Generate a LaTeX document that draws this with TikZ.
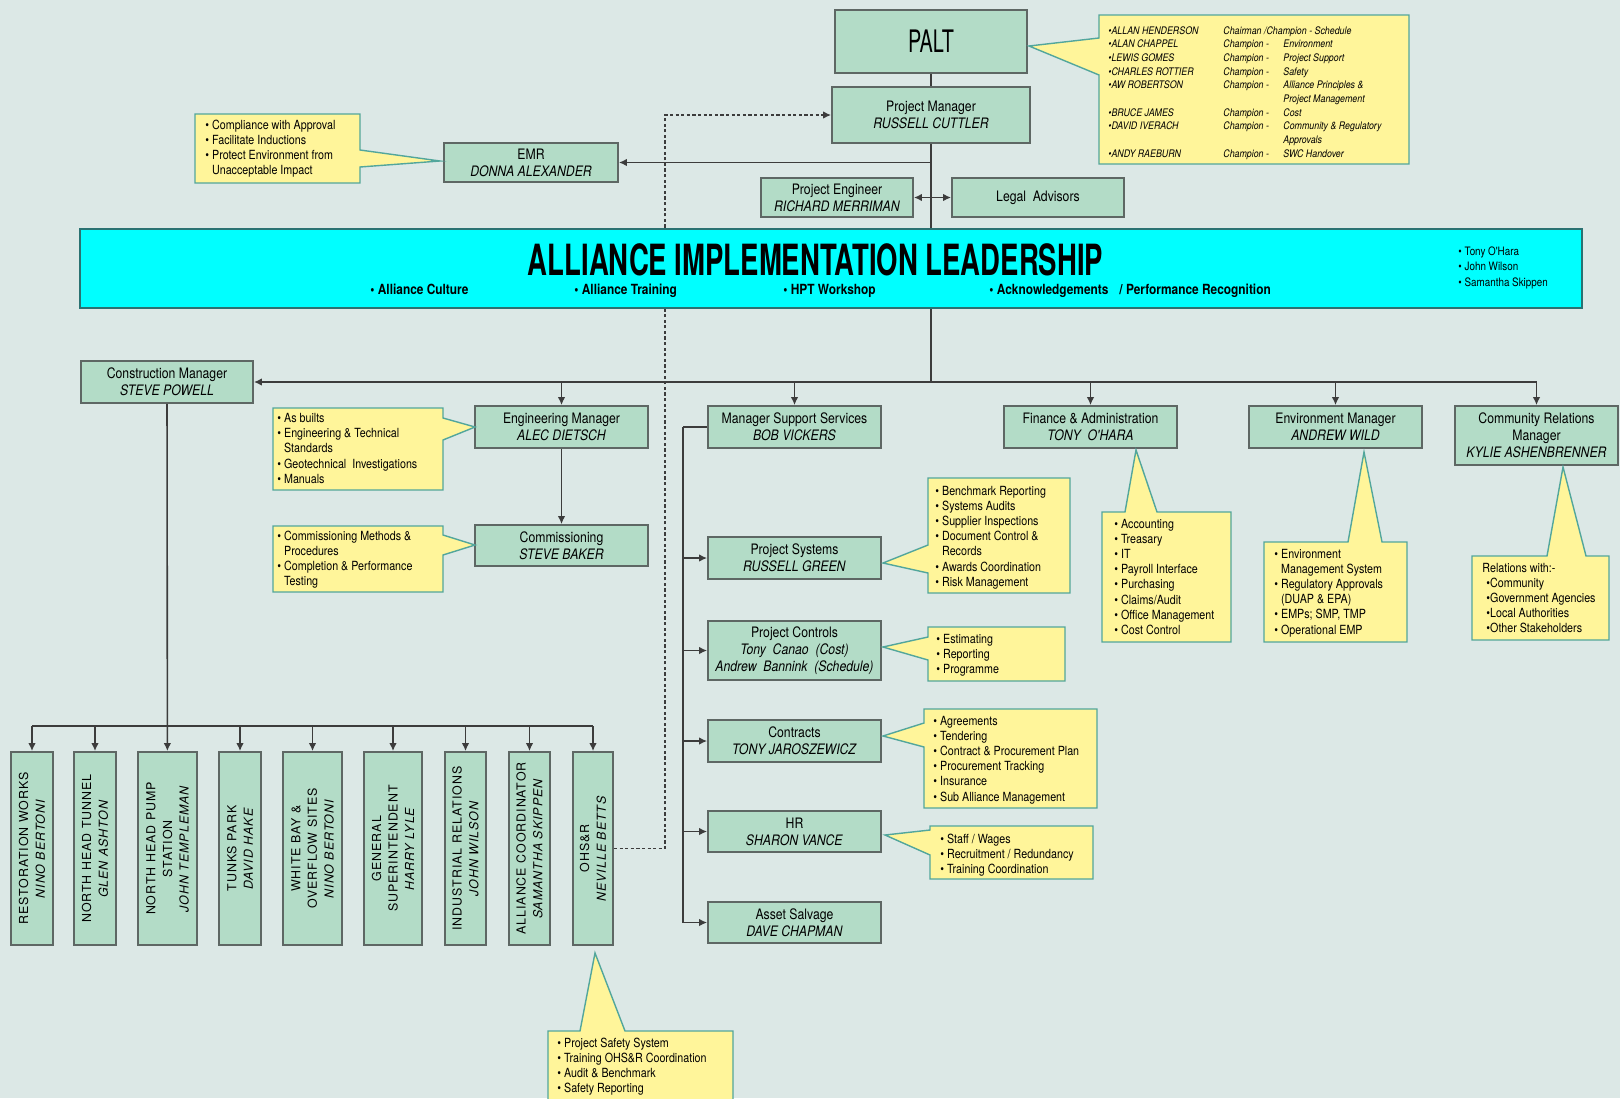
\documentclass[tikz,border=0pt]{standalone}
\usepackage{fontspec}
\setmainfont{TeX Gyre Heros}
\newfontfamily\cn{TeX Gyre Heros}[FakeStretch=0.85]
\newfontfamily\tfont{TeX Gyre Heros}[FakeStretch=0.64]
\newfontfamily\vfont{TeX Gyre Heros}[LetterSpace=8]
\usetikzlibrary{arrows.meta}

\definecolor{bg}{HTML}{DCE8E6}
\definecolor{boxfill}{HTML}{B3DCC7}
\definecolor{boxline}{HTML}{5E6764}
\definecolor{callfill}{HTML}{FFF59A}
\definecolor{callline}{HTML}{52A69C}
\definecolor{banfill}{HTML}{00FFFF}
\definecolor{banline}{HTML}{2A7272}
\definecolor{wire}{HTML}{3C3C3C}

% stacked lines whose baseline is the first line
\newcommand\rowsof[1]{\begin{tabular}[t]{@{}l@{}}#1\end{tabular}}
\newcommand\cind{\hphantom{•\ }}

\begin{document}
\begin{tikzpicture}[x=0.5pt,y=-0.5pt,
  box/.style={draw=boxline, fill=boxfill, line width=0.9pt, align=center, inner sep=0pt,
              font=\cn\fontsize{7.2}{8.5}\selectfont},
  vbox/.style={box, rotate=90, minimum width=96.5pt, font=\vfont\fontsize{6.2}{8.3}\selectfont},
  call/.style={draw=callline, fill=callfill, line width=0.7pt},
  ctext/.style={anchor=base west, inner sep=0pt, font=\cn\fontsize{6.3}{7.6}\selectfont},
  conn/.style={draw=wire, line width=0.8pt},
  arr/.style={conn, -{Latex[length=4pt,width=3.8pt]}},
  dsh/.style={arr, dash pattern=on 1.6pt off 1.2pt}]

\useasboundingbox (0,0) rectangle (1620,1098);
\clip (0,0) rectangle (1620,1098);
\fill[bg] (0,0) rectangle (1620,1098);

% ---------- management boxes ----------
\node[box, minimum width=96pt, minimum height=31.5pt, font=\tfont\fontsize{15.5}{17}\selectfont] (palt) at (931,41.5) {PALT};
\node[box, minimum width=99pt, minimum height=28pt] (pm) at (931,115) {Project Manager\\\textit{RUSSELL CUTTLER}};
\node[box, minimum width=87pt, minimum height=19.5pt] (emr) at (531,162.5) {EMR\\\textit{DONNA ALEXANDER}};
\node[box, minimum width=76pt, minimum height=19.5pt] (pe) at (837,197.5) {Project Engineer\\\textit{RICHARD MERRIMAN}};
\node[box, minimum width=86pt, minimum height=19.5pt] (legal) at (1038,197.5) {Legal\ \ Advisors};

\node[box, minimum width=86pt, minimum height=21pt] (cm) at (167,382) {Construction Manager\\\textit{STEVE POWELL}};
\node[box, minimum width=86.5pt, minimum height=21pt] (eng) at (561.5,427) {Engineering Manager\\\textit{ALEC DIETSCH}};
\node[box, minimum width=86.5pt, minimum height=21pt] (mss) at (794.5,427) {Manager Support Services\\\textit{BOB VICKERS}};
\node[box, minimum width=86.5pt, minimum height=21pt] (fa) at (1090.5,427) {Finance \& Administration\\\textit{TONY\ \ O'HARA}};
\node[box, minimum width=86.5pt, minimum height=21pt] (env) at (1335.5,427) {Environment Manager\\\textit{ANDREW WILD}};
\node[box, minimum width=81.5pt, minimum height=29.5pt] (crm) at (1536.5,435.5) {Community Relations\\Manager\\\textit{KYLIE ASHENBRENNER}};
\node[box, minimum width=86.5pt, minimum height=20.5pt] (com) at (561.5,545.5) {Commissioning\\\textit{STEVE BAKER}};

\node[box, minimum width=86.5pt, minimum height=21pt] (ps) at (794.5,558) {Project Systems\\\textit{RUSSELL GREEN}};
\node[box, minimum width=86.5pt, minimum height=29.5pt] (pc) at (794.5,650.5) {Project Controls\\\textit{Tony\ \ Canao\ \ (Cost)}\\\textit{Andrew\ \ Bannink\ \ (Schedule)}};
\node[box, minimum width=86.5pt, minimum height=21pt] (con) at (794.5,741) {Contracts\\\textit{TONY JAROSZEWICZ}};
\node[box, minimum width=86.5pt, minimum height=20.5pt] (hr) at (794.5,831.5) {HR\\\textit{SHARON VANCE}};
\node[box, minimum width=86.5pt, minimum height=20.5pt] (as) at (794.5,922.5) {Asset Salvage\\\textit{DAVE CHAPMAN}};

% ---------- site boxes (vertical text) ----------
\node[vbox, minimum height=21pt]   (v1) at (32,848.5)    {RESTORATION WORKS\\\textit{NINO BERTONI}};
\node[vbox, minimum height=21pt]   (v2) at (95,848.5)    {NORTH HEAD TUNNEL\\\textit{GLEN ASHTON}};
\node[vbox, minimum height=29.5pt] (v3) at (167.5,848.5) {NORTH HEAD PUMP\\STATION\\\textit{JOHN TEMPLEMAN}};
\node[vbox, minimum height=21pt]   (v4) at (240,848.5)   {TUNKS PARK\\\textit{DAVID HAKE}};
\node[vbox, minimum height=29.5pt] (v5) at (312.5,848.5) {WHITE BAY \&\\OVERFLOW SITES\\\textit{NINO BERTONI}};
\node[vbox, minimum height=29pt]   (v6) at (393,848.5)   {GENERAL\\SUPERINTENDENT\\\textit{HARRY LYLE}};
\node[vbox, minimum height=20.5pt] (v7) at (465.5,848.5) {INDUSTRIAL RELATIONS\\\textit{JOHN WILSON}};
\node[vbox, minimum height=20.5pt] (v8) at (529.5,848.5) {ALLIANCE COORDINATOR\\\textit{SAMANTHA SKIPPEN}};
\node[vbox, minimum height=20pt]   (v9) at (593,848.5)   {OHS\&R\\\textit{NEVILLE BETTS}};

% ---------- connectors ----------
\coordinate (hub) at (931,382);
\coordinate (emrj) at (931,162.5);
\coordinate (pej) at (931,197.5);
\coordinate (spine) at (683,427);
\coordinate (rowbar) at (167,726);
\coordinate (dcol) at (665,848.5);

\draw[conn] (palt) -- (pm);
\draw[conn] (pm) -- (hub);
\draw[arr] (emrj) -- (emr);
\draw[arr] (pej) -- (pe);
\draw[arr] (pej) -- (legal);
\draw[dsh] (v9.south) -- (dcol) |- (pm.west);

\draw[arr] (hub) -- (cm);
\draw[conn] (hub) -- (crm.north |- hub);
\foreach \n in {eng,mss,fa,env,crm} \draw[arr] (\n.north |- hub) -- (\n.north);
\draw[arr] (eng) -- (com);

\draw[conn] (mss.west) -- (spine);
\draw[arr] (spine) |- (as.west);
\foreach \n in {ps,pc,con,hr} \draw[arr] (spine |- \n.west) -- (\n.west);

\draw[arr] (cm) -- (v3);
\draw[conn] (v1 |- rowbar) -- (v9 |- rowbar);
\foreach \n in {v1,v2,v4,v5,v6,v7,v8,v9} \draw[arr] (\n |- rowbar) -- (\n);

% ---------- leadership banner ----------
\node[draw=banline, fill=banfill, line width=1pt, minimum width=751pt, minimum height=39.5pt, inner sep=0pt] (banner) at (831,268.5) {};
\node[inner sep=0pt, font=\tfont\bfseries\fontsize{21.5}{24}\selectfont] (title) at (815.5,260) {ALLIANCE IMPLEMENTATION LEADERSHIP};
\begin{scope}[every node/.style={anchor=base west, inner sep=0pt, font=\cn\bfseries\fontsize{7}{8}\selectfont}]
  \node (b1) at (370,294)  {• Alliance Culture};
  \node (b2) at (574,294)  {• Alliance Training};
  \node (b3) at (783,294)  {• HPT Workshop};
  \node (b4) at (989,294)  {• Acknowledgements};
  \node (b5) at (1119,294) {/ Performance Recognition};
\end{scope}
\node[ctext, font=\cn\fontsize{5.8}{7.75}\selectfont] (lead) at (1458,255) {\rowsof{• Tony O'Hara\\• John Wilson\\• Samantha Skippen}};

% ---------- callouts ----------
\draw[call] (1099,15) -- (1409,15) -- (1409,164) -- (1099,164) -- (1099,75) -- (1029,46) -- (1099,38) -- cycle;
\draw[call] (195,114) -- (360,114) -- (360,150) -- (440,161) -- (360,167) -- (360,183) -- (195,183) -- cycle;
\draw[call] (273,408) -- (443,408) -- (443,418) -- (475,427) -- (443,440) -- (443,490) -- (273,490) -- cycle;
\draw[call] (273,526) -- (443,526) -- (443,535) -- (475,545) -- (443,555) -- (443,592) -- (273,592) -- cycle;
\draw[call] (928,478) -- (1070,478) -- (1070,593) -- (928,593) -- (928,573) -- (883,563) -- (928,545) -- cycle;
\draw[call] (928,627) -- (1065,627) -- (1065,681) -- (928,681) -- (928,660) -- (883,647) -- (928,637) -- cycle;
\draw[call] (924,709) -- (1097,709) -- (1097,808) -- (924,808) -- (924,747) -- (883,736) -- (924,723) -- cycle;
\draw[call] (930,826) -- (1093,826) -- (1093,879) -- (930,879) -- (930,855) -- (885,835) -- (930,830) -- cycle;
\draw[call] (1102,512) -- (1125,512) -- (1136,450) -- (1157,512) -- (1231,512) -- (1231,642) -- (1102,642) -- cycle;
\draw[call] (1264,542) -- (1348,542) -- (1364,452) -- (1382,542) -- (1407,542) -- (1407,642) -- (1264,642) -- cycle;
\draw[call] (1472,556) -- (1547,556) -- (1563,467) -- (1586,556) -- (1609,556) -- (1609,640) -- (1472,640) -- cycle;
\draw[call] (548,1031) -- (580,1031) -- (595,953) -- (625,1031) -- (733,1031) -- (733,1110) -- (548,1110) -- cycle;

% PALT champions
\begin{scope}[every node/.style={ctext, font=\cn\itshape\fontsize{5.2}{6.85}\selectfont}]
  \node (pn) at (1108,34) {\rowsof{•ALLAN HENDERSON\\•ALAN CHAPPEL\\•LEWIS GOMES\\•CHARLES ROTTIER\\•AW ROBERTSON\\ \\•BRUCE JAMES\\•DAVID IVERACH\\ \\•ANDY RAEBURN}};
  \node (pr) at (1223,34) {\rowsof{Chairman /Champion - Schedule\\Champion -\\Champion -\\Champion -\\Champion -\\ \\Champion -\\Champion -\\ \\Champion -}};
  \node (pt) at (1283,34) {\rowsof{ \\Environment\\Project Support\\Safety\\Alliance Principles \&\\Project Management\\Cost\\Community \& Regulatory\\Approvals\\SWC Handover}};
\end{scope}

\node[ctext] (t-emr) at (205,129) {\rowsof{• Compliance with Approval\\• Facilitate Inductions\\• Protect Environment from\\\cind Unacceptable Impact}};
\node[ctext] (t-eng) at (277,422.5) {\rowsof{• As builts\\• Engineering \& Technical\\\cind Standards\\• Geotechnical\ \ Investigations\\• Manuals}};
\node[ctext] (t-com) at (277,540) {\rowsof{• Commissioning Methods \&\\\cind Procedures\\• Completion \& Performance\\\cind Testing}};
\node[ctext] (t-ps) at (935,495) {\rowsof{• Benchmark Reporting\\• Systems Audits\\• Supplier Inspections\\• Document Control \&\\\cind Records\\• Awards Coordination\\• Risk Management}};
\node[ctext] (t-pc) at (936,643.5) {\rowsof{• Estimating\\• Reporting\\• Programme}};
\node[ctext] (t-con) at (933,725) {\rowsof{• Agreements\\• Tendering\\• Contract \& Procurement Plan\\• Procurement Tracking\\• Insurance\\• Sub Alliance Management}};
\node[ctext] (t-hr) at (940,843) {\rowsof{• Staff / Wages\\• Recruitment / Redundancy\\• Training Coordination}};
\node[ctext] (t-fa) at (1114,528) {\rowsof{• Accounting\\• Treasary\\• IT\\• Payroll Interface\\• Purchasing\\• Claims/Audit\\• Office Management\\• Cost Control}};
\node[ctext] (t-env) at (1274,558) {\rowsof{• Environment\\\cind Management System\\• Regulatory Approvals\\\cind (DUAP \& EPA)\\• EMPs; SMP, TMP\\• Operational EMP}};
\node[ctext] (t-crm) at (1482,572) {\rowsof{Relations with:-\\\hspace*{2pt}•Community\\\hspace*{2pt}•Government Agencies\\\hspace*{2pt}•Local Authorities\\\hspace*{2pt}•Other Stakeholders}};
\node[ctext] (t-ohs) at (557,1047) {\rowsof{• Project Safety System\\• Training OHS\&R Coordination\\• Audit \& Benchmark\\• Safety Reporting}};

\end{tikzpicture}
\end{document}
